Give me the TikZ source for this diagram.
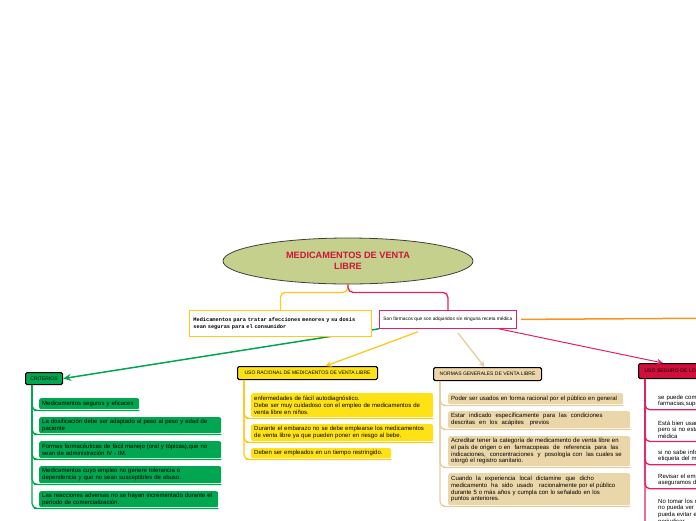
\documentclass[tikz,border=0pt]{standalone}
\usepackage{fontspec}
\setmainfont{Liberation Sans}
\setmonofont{Liberation Mono}
\usetikzlibrary{shapes.geometric,arrows.meta,positioning}

\definecolor{rojotit}{RGB}{204,20,60}
\definecolor{olivo}{RGB}{196,208,140}
\definecolor{gold}{RGB}{255,200,30}
\definecolor{rosa}{RGB}{230,30,100}
\definecolor{naranja}{RGB}{247,148,29}
\definecolor{verde}{RGB}{0,166,80}
\definecolor{canela}{RGB}{234,214,168}
\definecolor{canelaline}{RGB}{228,206,158}
\definecolor{amarillo}{RGB}{255,226,22}
\definecolor{carmesi}{RGB}{208,16,58}

\tikzset{
  hdr/.style={draw=black, line width=1.1pt, rounded corners=1.5pt, anchor=north west,
    inner xsep=3pt, inner ysep=1pt, font=\fontsize{5}{6}\selectfont},
  leaf/.style={rounded corners=2pt, anchor=north west, inner xsep=3pt, inner ysep=1.5pt,
    align=left, font=\fontsize{6}{6.8}\selectfont},
  rama/.style={line width=1.3pt, rounded corners=5pt},
  flecha/.style={line width=1.3pt, -{Stealth[length=6pt,width=6pt]}},
}

\begin{document}
\begin{tikzpicture}[x=1pt,y=-1pt]
\useasboundingbox (0,0) rectangle (696,520);
\clip (0,0) rectangle (696,520);

\node[ellipse, draw=black!75, line width=0.8pt, fill=olivo, minimum width=250pt, minimum height=46pt,
  align=center, text=rojotit, font=\bfseries\fontsize{9.2}{11}\selectfont] (main) at (348,261)
  {MEDICAMENTOS DE VENTA\\LIBRE};

\node[draw=rosa, line width=0.8pt, anchor=north west, minimum width=137pt, minimum height=18pt,
  font=\fontsize{4.8}{5.5}\selectfont] (adq) at (379,310)
  {Son fármacos que son adquiridos sin ninguna receta médica};

\node[hdr, fill=verde, minimum width=37pt, minimum height=12pt] (crit) at (25,372) {CRITERIOS};

\draw[verde, line width=1.5pt, -{Stealth[length=8pt,width=7pt]}] (adq.south west) -- (crit.east);

\node[draw=gold, line width=0.8pt, fill=white, anchor=north west, text width=174pt, inner xsep=4pt,
  minimum height=26pt, align=left, font=\ttfamily\bfseries\fontsize{5.3}{7.5}\selectfont] (def) at (189,310)
  {Medicamentos para tratar afecciones menores y su dosis\\sean seguras para el consumidor};

\draw[gold, rama] (main.south) -- ++(0,8) -| (def.north);
\draw[rosa, rama] (main.south) -- ++(0,8) -| (adq.north);

\coordinate (fuera) at (740,318);
\draw[naranja, line width=1.5pt] ([xshift=4pt]adq.east) -- (fuera);

\node[hdr, fill=amarillo, minimum width=140pt, minimum height=13pt] (racional) at (237,366)
  {USO RACIONAL DE MEDICAENTOS DE VENTA LIBRE};
\node[hdr, fill=canela, minimum width=108pt, minimum height=13pt] (normas) at (433,367)
  {NORMAS GENERALES DE VENTA LIBRE};
\node[hdr, fill=carmesi, minimum height=15pt, text width=124pt, align=left, inner xsep=6pt] (seguro) at (638,363)
  {USO SEGURO DE LOS MEDICAMENTOS};

\draw[gold, flecha] ([xshift=-30pt,yshift=-3pt]adq.south) -- ([xshift=18pt]racional.north);
\draw[canelaline, flecha] ([xshift=10pt,yshift=-4pt]adq.south) -- ([xshift=-3pt]normas.north);
\draw[rosa, flecha, line width=1pt] ([xshift=-18pt]adq.south east) -- ([xshift=25pt]seguro.north west);

% criterios
\node[leaf, fill=verde, text width=94pt, minimum height=11pt] (c1) at (39,398)
  {Medicamentos seguros y eficaces};
\node[leaf, fill=verde, text width=176pt, minimum height=16pt] (c2) at (39,417)
  {La dosificación debe ser adaptado al peso al peso y edad de\\paciente};
\node[leaf, fill=verde, text width=176pt, minimum height=17pt] (c3) at (39,441)
  {Formas farmacéuticas de fácil manejo (oral y tópicas),que no\\sean de administración IV - IM.};
\node[leaf, fill=verde, text width=176pt, minimum height=17pt] (c4) at (39,466)
  {Medicamentos cuyo empleo no genere tolerancia o\\dependencia y que no sean susceptibles de abuso.};
\node[leaf, fill=verde, text width=173pt, minimum height=16pt] (c5) at (39,491)
  {Las reacciones adversas no se hayan incrementado durante el\\período de comercialización.};
\foreach \k in {c1,c2,c3,c4,c5}
  \draw[verde, rama] ([xshift=7pt]crit.south west) |- ([yshift=-1pt]\k.south west) -- ([yshift=-1pt]\k.south east);

% uso racional
\node[leaf, fill=amarillo, text width=176pt, minimum height=24pt] (r1) at (251,393)
  {enfermedades de fácil autodiagnóstico.\\Debe ser muy cuidadoso con el empleo de medicamentos de\\venta libre en niños.};
\node[leaf, fill=amarillo, text width=176pt, minimum height=17pt] (r2) at (251,424)
  {Durante el embarazo no se debe emplearse los medicamentos\\de venta libre ya que pueden poner en riesgo al bebe.};
\node[leaf, fill=amarillo, text width=134pt, minimum height=10pt] (r3) at (251,448)
  {Deben ser empleados en un tiempo restringido.};
\foreach \k in {r1,r2,r3}
  \draw[gold, rama] ([xshift=7pt]racional.south west) |- ([yshift=-1pt]\k.south west) -- ([yshift=-1pt]\k.south east);

% normas generales
\node[leaf, fill=canela, text width=169pt, minimum height=11pt] (n1) at (448,393)
  {Poder ser usados en forma racional por el público en general};
\node[leaf, fill=canela, text width=176pt, minimum height=17pt] (n2) at (448,411)
  {Estar\ \ indicado\ \ específicamente\ \ para\ \ las\ \ condiciones\\descritas\ \ en\ \ los\ \ acápites\ \ \ previos};
\node[leaf, fill=canela, text width=176pt, minimum height=30pt] (n3) at (448,436)
  {Acreditar tener la categoría de medicamento de venta libre en\\el país de origen o en \ farmacopeas \ de \ referencia \ para \ las\\indicaciones, \ concentraciones \ y \ posología con \ las cuales se\\otorgó el registro sanitario.};
\node[leaf, fill=canela, text width=176pt, minimum height=32pt] (n4) at (448,473)
  {Cuando \ la \ experiencia \ local \ dictamine \ que \ dicho\\medicamento \ ha \ sido \ usado \ \ racionalmente por el público\\durante 5 o más años y cumpla con lo señalado en los\\puntos anteriores.};
\foreach \k in {n1,n2,n3,n4}
  \draw[canelaline, rama] ([xshift=7pt]normas.south west) |- ([yshift=-1pt]\k.south west) -- ([yshift=-1pt]\k.south east);

% uso seguro
\node[leaf, text width=140pt, minimum height=15pt] (s1) at (655,393)
  {se puede comprar en\\farmacias,supermercados};
\node[leaf, text width=140pt, minimum height=18pt] (s2) at (655,419)
  {Está bien usarlos\\pero si no estás seguro consulta\\médica};
\node[leaf, text width=140pt, minimum height=12pt] (s3) at (655,448)
  {si no sabe informarse leyendo la\\etiqueta del medicamento};
\node[leaf, text width=140pt, minimum height=15pt] (s4) at (655,472)
  {Revisar el empaque y\\aseguramos de que esté sellado};
\node[leaf, text width=140pt, minimum height=26pt] (s5) at (655,497)
  {No tomar los medicamentos si\\no pueda ver bien la etiqueta\\pueda evitar errores que\\perjudicar};
\foreach \k in {s1,s2,s3,s4,s5}
  \draw[rosa, rama] ([xshift=7pt]seguro.south west) |- ([yshift=-1pt]\k.south west) -- ([yshift=-1pt]\k.south east);
\end{tikzpicture}
\end{document}
